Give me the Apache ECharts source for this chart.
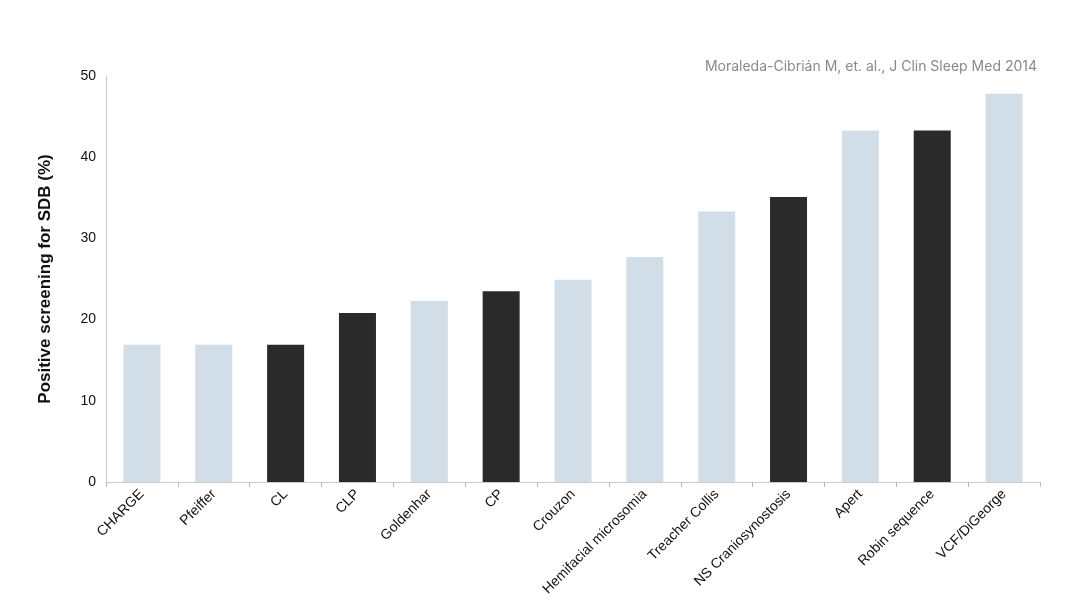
<!DOCTYPE html>
<html>
<head>
<meta charset="utf-8">
<script src="https://cdn.jsdelivr.net/npm/echarts@6/dist/echarts.min.js"></script>
<style>
  html, body { margin: 0; padding: 0; background: #fff; }
  #chart { width: 1080px; height: 608px; }
</style>
</head>
<body>
<div id="chart"></div>
<script>
const categories = ['CHARGE', 'Pfeiffer', 'CL', 'CLP', 'Goldenhar', 'CP', 'Crouzon',
  'Hemifacial microsomia', 'Treacher Collis', 'NS Craniosynostosis', 'Apert', 'Robin sequence', 'VCF/DiGeorge'];
const values = [16.9, 16.9, 16.9, 20.8, 22.3, 23.5, 24.9, 27.7, 33.3, 35.1, 43.3, 43.3, 47.8];
const darkBars = ['CL', 'CLP', 'CP', 'NS Craniosynostosis', 'Robin sequence'];

const font = '"Liberation Sans Narrow", "Liberation Sans", Arial, sans-serif';
const chart = echarts.init(document.getElementById('chart'));

chart.setOption({
  animation: false,
  title: {
    text: 'Moraleda-Cibrián M, et. al., J Clin Sleep Med 2014',
    right: 38, top: 55,
    textStyle: { color: '#8a8a8a', fontSize: 14, fontWeight: 'normal', fontFamily: 'Inter, sans-serif' }
  },
  grid: { left: 106, right: 40, top: 76, bottom: 126 },
  xAxis: {
    type: 'category',
    data: categories,
    axisLine: { lineStyle: { color: '#cccccc' } },
    axisTick: { show: true, alignWithLabel: false, lineStyle: { color: '#bbbbbb' } },
    axisLabel: { rotate: 45, color: '#111', fontSize: 14, fontFamily: font, interval: 0, margin: 10 }
  },
  yAxis: {
    type: 'value',
    min: 0, max: 50, interval: 10,
    name: 'Positive screening for SDB (%)',
    nameLocation: 'middle',
    nameGap: 52,
    nameTextStyle: { color: '#111', fontSize: 17, fontWeight: 'bold', fontFamily: font },
    axisLine: { show: true, lineStyle: { color: '#cccccc' } },
    axisTick: { show: false },
    splitLine: { show: false },
    axisLabel: { color: '#111', fontSize: 14, fontFamily: font, margin: 10 }
  },
  series: [{
    type: 'bar',
    barWidth: 37,
    data: categories.map((c, i) => ({
      value: values[i],
      itemStyle: { color: darkBars.includes(c) ? '#2a2a2a' : '#d1dee8' }
    }))
  }]
});
</script>
</body>
</html>
